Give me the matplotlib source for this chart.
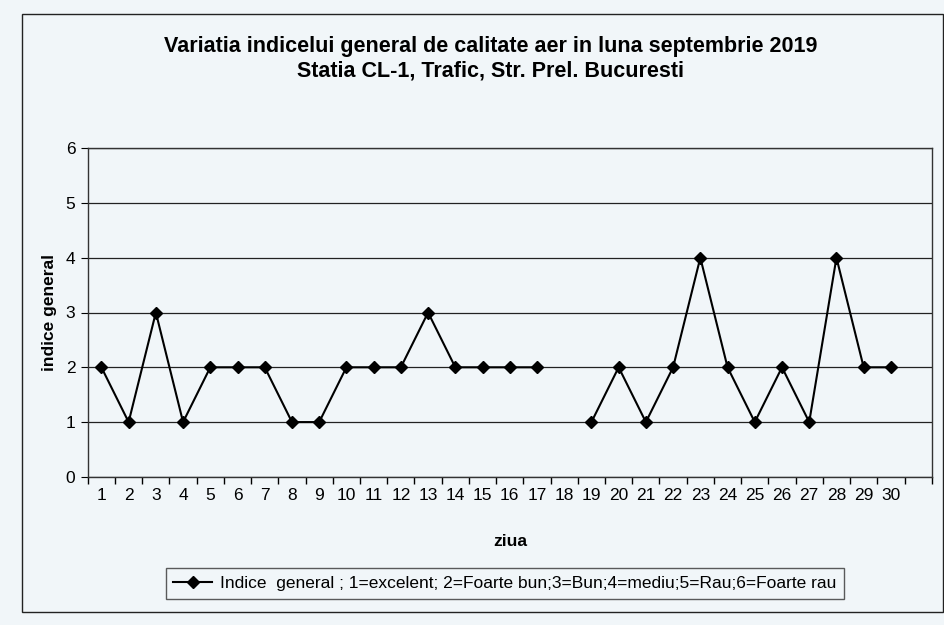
import numpy as np
import matplotlib
matplotlib.use("Agg")
import matplotlib.pyplot as plt
from matplotlib.patches import Rectangle
from matplotlib.ticker import FixedLocator

plt.rcParams["font.family"] = ["Liberation Sans", "DejaVu Sans"]

# day of month (template axis has 31 slots, day 31 empty)
days = list(range(1, 31))
day_labels = [str(d) for d in days]
# indice general; day 18 has no data
indice = [2, 1, 3, 1, 2, 2, 2, 1, 1, 2,
          2, 2, 3, 2, 2, 2, 2, np.nan, 1, 2,
          1, 2, 4, 2, 1, 2, 1, 4, 2, 2]

title = ("Variatia indicelui general de calitate aer in luna septembrie 2019\n"
         "Statia CL-1, Trafic, Str. Prel. Bucuresti")
legend_label = "Indice  general ; 1=excelent; 2=Foarte bun;3=Bun;4=mediu;5=Rau;6=Foarte rau"

bg = "#f1f6f9"
fig = plt.figure(figsize=(9.44, 6.25), dpi=100, facecolor=bg)
ax = fig.add_axes([0.093, 0.237, 0.894, 0.526], facecolor=bg)

# outer chart border
fig.patches.append(Rectangle((22 / 944, 1 - 612 / 625), (943 - 22) / 944, (612 - 14) / 625,
                             transform=fig.transFigure, fill=False, edgecolor="#222222",
                             linewidth=1.0))

line, = ax.plot(days, indice, color="black", linewidth=1.5, marker="D",
                markersize=6, markerfacecolor="black", markeredgecolor="black",
                label=legend_label)

ax.set_xlim(0.5, 31.5)
ax.set_ylim(0, 6)
ax.set_yticks(range(0, 7))
ax.set_xticks(days)
ax.set_xticklabels(day_labels, fontsize=12.5)
ax.xaxis.set_minor_locator(FixedLocator(np.arange(0.5, 32, 1)))
ax.tick_params(axis="x", which="major", length=0, pad=8)
ax.tick_params(axis="x", which="minor", length=5, direction="out", width=1)
ax.tick_params(axis="y", length=5, direction="out", labelsize=12.5, pad=4)
ax.grid(True, axis="y", color="#222222", linewidth=0.9)
ax.set_axisbelow(True)
for s in ax.spines.values():
    s.set_color("#333333")
    s.set_linewidth(1.0)

ax.set_xlabel("ziua", fontsize=12.5, fontweight="bold", labelpad=22)
ax.set_ylabel("indice general", fontsize=12.5, fontweight="bold", labelpad=6)

fig.text(0.52, 0.906, title, ha="center", va="center", fontsize=15.5,
         fontweight="bold", linespacing=1.25)

leg = fig.legend(handles=[line], loc="center", bbox_to_anchor=(0.535, 0.066),
                 fontsize=12.5, frameon=True, fancybox=False, handlelength=2.2,
                 borderpad=0.45, borderaxespad=0, handletextpad=0.5)
leg.get_frame().set_edgecolor("#333333")
leg.get_frame().set_facecolor(bg)
leg.get_frame().set_linewidth(1.0)

fig.savefig("out.png", dpi=100, facecolor=bg)
